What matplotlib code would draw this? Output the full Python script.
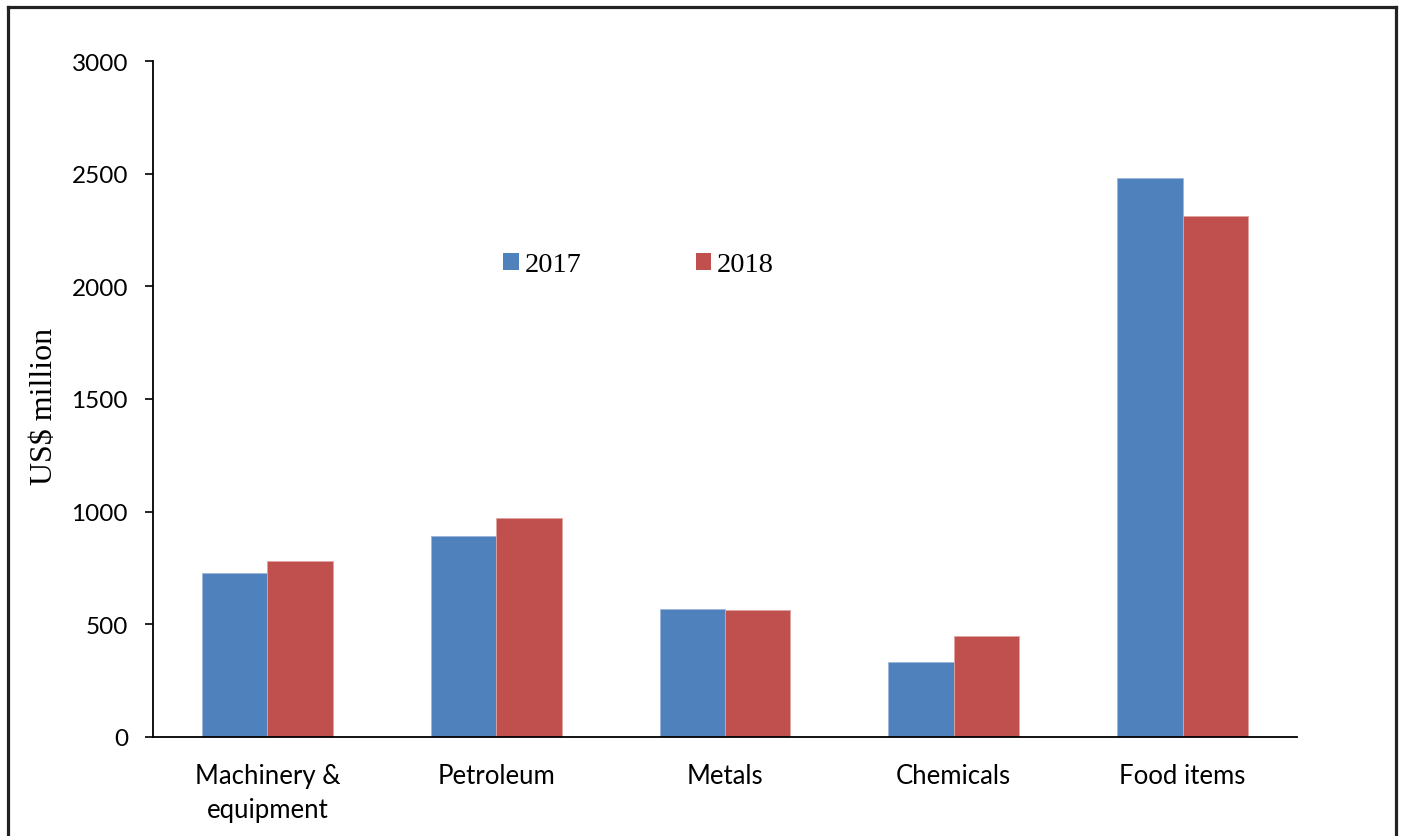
import matplotlib
matplotlib.use("Agg")
import matplotlib.pyplot as plt
import numpy as np
from matplotlib.patches import Patch
from matplotlib.lines import Line2D

categories = ["Machinery &\nequipment", "Petroleum", "Metals", "Chemicals", "Food items"]
series_names = ["2017", "2018"]
values_2017 = [726, 893, 568, 333, 2481]
values_2018 = [781, 973, 565, 447, 2313]
yticks = [0, 500, 1000, 1500, 2000, 2500, 3000]

W, H = 1405, 837
fig = plt.figure(figsize=(W / 100, H / 100), dpi=100)
ax = fig.add_axes([153 / W, 1 - 738 / H, (1297 - 153) / W, (738 - 62) / H])

blue = "#4F81BD"
red = "#C0504D"
x = np.arange(len(categories))
bw = 1 / 3.5
ax.bar(x - bw / 2, values_2017, width=bw, color=blue, edgecolor="#9DB5D9", linewidth=0.6)
ax.bar(x + bw / 2, values_2018, width=bw, color=red, edgecolor="#DFA3A1", linewidth=0.6)

ax.set_xlim(-0.5, len(categories) - 0.5)
ax.set_ylim(0, 3000)
ax.set_yticks(yticks)
ax.set_yticklabels([str(v) for v in yticks], fontfamily="Lato", fontsize=17.5)
ax.set_xticks(x)
ax.set_xticklabels(categories, fontfamily="Lato", fontsize=18.5, linespacing=1.42)
ax.tick_params(axis="x", length=0, pad=19)
ax.tick_params(axis="y", direction="out", length=6, width=1.2, pad=12)
for s in ["top", "right"]:
    ax.spines[s].set_visible(False)
for s in ["left", "bottom"]:
    ax.spines[s].set_linewidth(1.3)
    ax.spines[s].set_color("black")

ax.set_ylabel("US$ million", fontfamily="Liberation Serif", fontsize=23, va="center")
ax.yaxis.set_label_coords((45 - 153) / 1144, (738 - 406) / 676)

handles = [Patch(facecolor=blue, edgecolor="none"), Patch(facecolor=red, edgecolor="none")]
leg = fig.legend(handles, series_names, loc="center left",
                 bbox_to_anchor=(503 / W, 1 - 266 / H), ncol=2, frameon=False,
                 prop={"family": "Liberation Serif", "size": 20.5},
                 handlelength=0.55, handleheight=0.55, handletextpad=0.2,
                 columnspacing=4.02, borderaxespad=0, borderpad=0)

# outer frame
lw = 2.3
col = "#222222"
fig.add_artist(Line2D([8 / W, 8 / W], [0, 1 - 8 / H], color=col, linewidth=lw, transform=fig.transFigure))
fig.add_artist(Line2D([1396 / W, 1396 / W], [0, 1 - 8 / H], color=col, linewidth=lw, transform=fig.transFigure))
fig.add_artist(Line2D([8 / W, 1396 / W], [1 - 8 / H, 1 - 8 / H], color=col, linewidth=lw, transform=fig.transFigure))

fig.savefig("out.png", dpi=100)
